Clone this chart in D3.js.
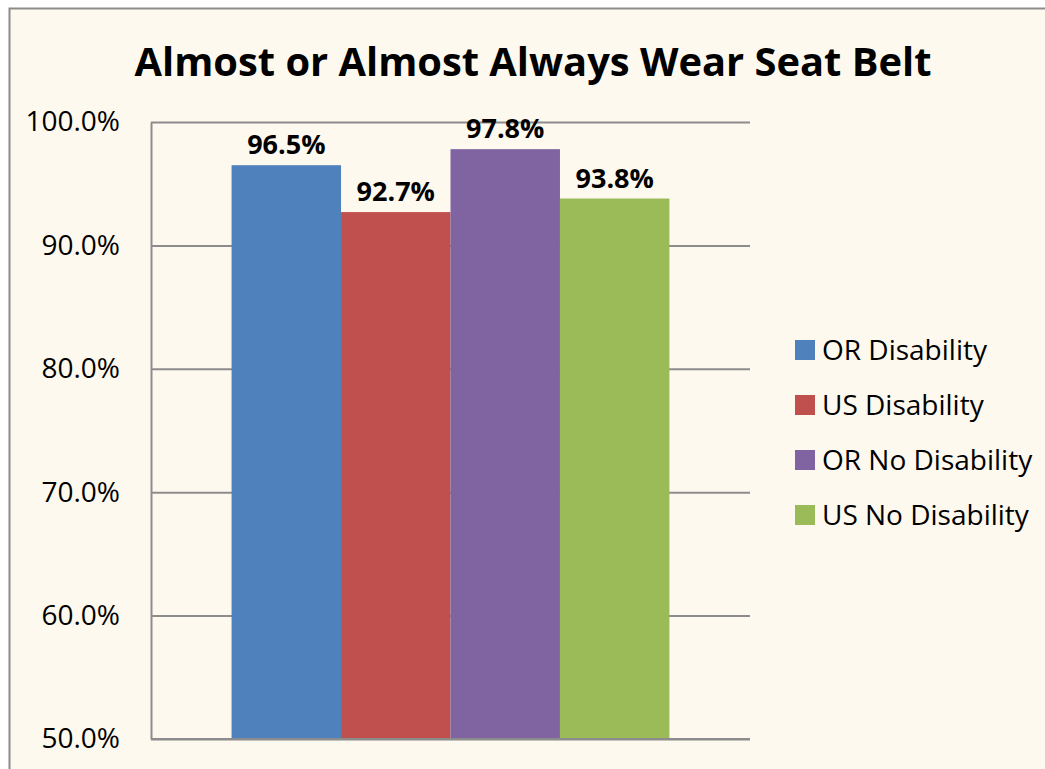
<!DOCTYPE html>
<html>
<head>
<meta charset="utf-8">
<script src="https://cdn.jsdelivr.net/npm/d3@7"></script>
<style>
  html, body { margin: 0; padding: 0; background: #fff; }
  svg { display: block; }
</style>
</head>
<body>
<div id="chart"></div>
<script>
// chart data
const seriesNames = ['OR Disability', 'US Disability', 'OR No Disability', 'US No Disability'];
const seriesValues = [96.5, 92.7, 97.8, 93.8];
const seriesColors = ['#4f81bd', '#c0504d', '#8064a2', '#9bbb59'];
const yTicks = [50, 60, 70, 80, 90, 100];
const chartTitle = 'Almost or Almost Always Wear Seat Belt';

const width = 1045, height = 769;
const plot = { left: 151, top: 122, right: 750, bottom: 739 };

const svg = d3.select('#chart').append('svg')
  .attr('width', width)
  .attr('height', height);

// background + outer border
svg.append('rect')
  .attr('x', 9.5).attr('y', 8.5)
  .attr('width', width + 20).attr('height', height + 20)
  .attr('fill', '#fef9ee')
  .attr('stroke', '#8c8c8c')
  .attr('stroke-width', 2);

// title
svg.append('text')
  .attr('x', 533)
  .attr('y', 76)
  .attr('text-anchor', 'middle')
  .attr('font-family', 'Open Sans, sans-serif')
  .attr('font-weight', 'bold')
  .attr('font-size', 40)
  .attr('textLength', 797)
  .attr('lengthAdjust', 'spacingAndGlyphs')
  .attr('fill', '#000')
  .text(chartTitle);

// scales
const y = d3.scaleLinear().domain([50, 100]).range([plot.bottom, plot.top]);
const x = d3.scaleBand()
  .domain(['group'])
  .range([plot.left, plot.right])
  .paddingInner(0)
  .paddingOuter(0.184);
const xs = d3.scaleBand()
  .domain(seriesNames)
  .range([0, x.bandwidth()]);

// gridlines
const grid = svg.append('g')
  .attr('transform', `translate(${plot.left},0)`)
  .call(d3.axisLeft(y).tickValues(yTicks).tickSize(-(plot.right - plot.left)).tickFormat(''));
grid.select('.domain').remove();
grid.selectAll('line').attr('stroke', '#8c8c8c').attr('stroke-width', 2);

// bars
svg.append('g')
  .selectAll('rect')
  .data(seriesNames)
  .join('rect')
  .attr('x', d => x('group') + xs(d))
  .attr('y', (d, i) => y(seriesValues[i]))
  .attr('width', xs.bandwidth())
  .attr('height', (d, i) => y(50) - y(seriesValues[i]))
  .attr('fill', (d, i) => seriesColors[i]);

// data labels
svg.append('g')
  .selectAll('text')
  .data(seriesNames)
  .join('text')
  .attr('x', d => x('group') + xs(d) + xs.bandwidth() / 2)
  .attr('y', (d, i) => y(seriesValues[i]) - 11)
  .attr('text-anchor', 'middle')
  .attr('font-family', 'Open Sans, sans-serif')
  .attr('font-weight', 'bold')
  .attr('font-size', 27)
  .attr('fill', '#000')
  .text((d, i) => seriesValues[i].toFixed(1) + '%');

// y axis
const yAxis = svg.append('g')
  .attr('transform', `translate(${plot.left},0)`)
  .call(d3.axisLeft(y).tickValues(yTicks).tickSize(0).tickPadding(31)
    .tickFormat(d => d.toFixed(1) + '%'));
yAxis.select('.domain').attr('stroke', '#8c8c8c').attr('stroke-width', 2);
yAxis.selectAll('text')
  .attr('font-family', 'Open Sans, sans-serif')
  .attr('font-size', 28)
  .attr('fill', '#000');

// x axis baseline
svg.append('line')
  .attr('x1', plot.left).attr('x2', plot.right)
  .attr('y1', y(50)).attr('y2', y(50))
  .attr('stroke', '#8c8c8c').attr('stroke-width', 2);

// legend
const legend = svg.append('g')
  .attr('transform', 'translate(795,340)');
const item = legend.selectAll('g')
  .data(seriesNames)
  .join('g')
  .attr('transform', (d, i) => `translate(0,${i * 55})`);
item.append('rect')
  .attr('width', 20).attr('height', 20)
  .attr('fill', (d, i) => seriesColors[i]);
item.append('text')
  .attr('x', 27)
  .attr('y', 10)
  .attr('dy', '0.35em')
  .attr('font-family', 'Open Sans, sans-serif')
  .attr('font-size', 28)
  .attr('fill', '#000')
  .text(d => d);
</script>
</body>
</html>
